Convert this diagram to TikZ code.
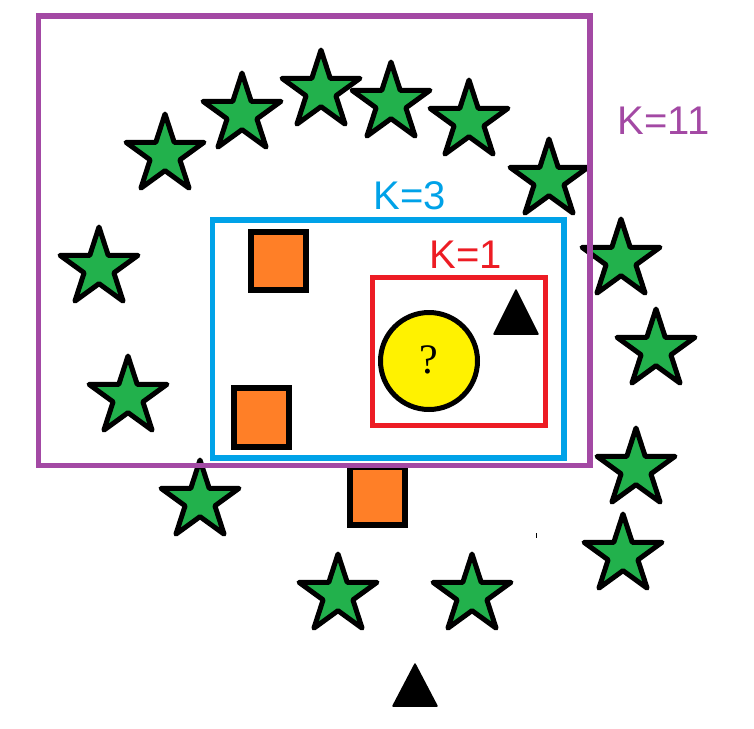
\documentclass[tikz,border=0pt]{standalone}
\usepackage{fontspec}
\setmainfont{Liberation Sans}
\newfontfamily\qfont{Liberation Serif}
\usetikzlibrary{shapes.geometric}
\definecolor{kpurple}{HTML}{A349A4}
\definecolor{kblue}{HTML}{00A2E8}
\definecolor{kred}{HTML}{ED1C24}
\definecolor{kgreen}{HTML}{22B14C}
\definecolor{korange}{HTML}{FF7F27}
\definecolor{kyellow}{HTML}{FFF200}
\tikzset{
  gstar/.style={star, star points=5, star point ratio=2.618, minimum size=82pt, inner sep=0pt,
    draw=black, fill=kgreen, line width=5pt, line join=round},
  osq/.style={rectangle, draw=black, fill=korange, line width=6pt, minimum width=55pt, minimum height=58pt, inner sep=0pt},
  btri/.style={fill=black, draw=black, line width=1.5pt, line join=round},
  lbl/.style={font=\fontsize{40}{40}\selectfont, inner sep=0pt},
}
\begin{document}
\begin{tikzpicture}[x=1pt,y=-1pt]
\useasboundingbox (0,0) rectangle (754,728);
\fill[white] (0,0) rectangle (754,728);
% stars
\node[gstar] (s1) at (165,155) {};
\node[gstar] (s2) at (242,114) {};
\node[gstar] (s3) at (321,91) {};
\node[gstar] (s4) at (391,103) {};
\node[gstar] (s5) at (469,121) {};
\node[gstar] (s6) at (549,180) {};
\node[gstar] (s7) at (99,268) {};
\node[gstar] (s8) at (128,397) {};
\node[gstar] (s9) at (621,260) {};
\node[gstar] (s10) at (656,350) {};
\node[gstar] (s11) at (636,469) {};
\node[gstar] (s12) at (623,555) {};
\node[gstar] (s13) at (472,595) {};
\node[gstar] (s14) at (338,595) {};
\node[gstar] (s15) at (200,501) {};
% squares
\node[osq] (q1) at (278.5,261) {};
\node[osq, minimum height=59pt] (q2) at (261.5,417.5) {};
\node[osq] (q3) at (377.5,496) {};
% triangles
\draw[btri] (516,290) -- (538,334) -- (494,334) -- cycle;
\draw[btri] (415,664) -- (437,706) -- (393,706) -- cycle;
% query point
\node[circle, draw=black, fill=kyellow, line width=5pt, minimum size=97pt, inner sep=0pt] (q) at (429,361) {};
\node[font=\qfont\fontsize{42}{42}\selectfont, inner sep=0pt] (qm) at (428.5,360) {?};
% tiny mark
\fill[black] (535.5,533) rectangle (537,538);
% K rectangles
\draw[kpurple, line width=5.5pt] (38.5,16) rectangle (590,465.5);
\draw[kblue, line width=5.5pt] (212.5,220) rectangle (564,458);
\draw[kred, line width=5pt] (372,277.5) rectangle (545.5,425.5);
% labels
\node[lbl, text=kpurple] (k11) at (663.5,121) {K=11};
\node[lbl, text=kblue] (k3) at (409.5,195.5) {K=3};
\node[lbl, text=kred] (k1) at (465.5,254.5) {K=1};
\end{tikzpicture}
\end{document}
